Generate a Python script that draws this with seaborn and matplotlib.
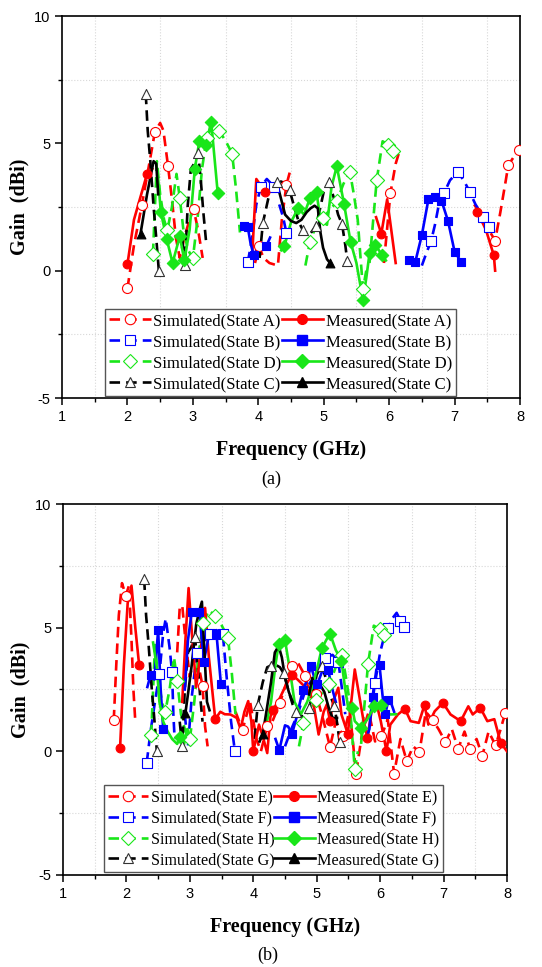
import numpy as np
import matplotlib
matplotlib.use("Agg")
import matplotlib.pyplot as plt
from matplotlib.lines import Line2D
from matplotlib.ticker import MultipleLocator
import seaborn as sns

nan = np.nan

# ---------------- Panel (a) data ----------------
simA_x = [2.0, 2.1, 2.22, 2.32, 2.42, 2.5, 2.55, 2.62, 2.68, 2.74, 2.8, 2.88, 2.95, 3.01, 3.08, 3.15, nan,
          3.95, 4.01, 4.08, 4.17, 4.3, 4.36, 4.43, 4.48, nan,
          5.92, 6.02, 6.1, 6.17, nan,
          7.3, 7.4, 7.5, 7.62, 7.7, 7.78, 7.82, 7.9, 7.98]
simA_y = [-0.7, 1.0, 2.57, 4.0, 5.45, 5.8, 5.5, 4.12, 2.8, 1.3, 0.5, 1.4, 2.0, 2.43, 1.6, 0.5, nan,
          0.3, 0.97, 0.5, 0.3, 0.2, 2.0, 3.37, 3.85, nan,
          0.3, 3.05, 4.2, 4.8, nan,
          2.6, 2.2, 1.7, 1.18, 2.3, 3.5, 4.13, 4.45, 4.73]
simA_mk = [2.0, 2.22, 2.42, 2.62, 3.01, 4.01, 4.43, 6.02, 7.62, 7.82, 7.98]

measA_x = [2.0, 2.1, 2.3, 2.38, nan, 3.9, 3.97, 4.1, nan, 5.8, 5.88, 5.97, 6.1, nan, 7.35, 7.48, 7.6, 7.62]
measA_y = [0.25, 2.0, 3.8, 4.0, nan, 0.3, 3.6, 3.1, nan, 2.1, 1.45, 2.8, 0.3, nan, 2.3, 1.6, 0.6, 0.0]
measA_mk = [2.0, 2.3, 4.1, 5.88, 7.35, 7.6]

simB_x = [3.84, 3.9, 3.97, 4.04, 4.13, 4.24, nan, 4.32, 4.38, 4.43, nan,
          6.5, 6.57, 6.64, 6.7, 6.76, 6.84, 6.93, 7.05, 7.15, 7.23, 7.32, 7.44, 7.53]
simB_y = [0.33, 1.2, 2.6, 3.3, 3.6, 3.3, nan, 2.6, 2.1, 1.47, nan,
          0.2, 0.7, 1.15, 1.8, 2.6, 3.05, 3.55, 3.88, 3.5, 3.1, 2.6, 2.12, 1.7]
simB_mk = [3.84, 4.04, 4.24, 4.43, 6.64, 6.84, 7.05, 7.23, 7.44, 7.53]

measB_x = [3.78, 3.84, 3.88, 3.93, 3.98, 4.05, 4.12, 4.18, nan,
           6.3, 6.4, 6.5, 6.6, 6.7, 6.8, 6.9, 7.0, 7.1]
measB_y = [1.75, 1.7, 1.1, 0.6, 0.85, 1.1, 0.95, 1.3, nan,
           0.4, 0.35, 1.4, 2.8, 2.9, 2.75, 1.95, 0.75, 0.35]
measB_mk = [3.78, 3.84, 3.93, 4.12, 6.3, 6.4, 6.5, 6.6, 6.7, 6.8, 6.9, 7.0, 7.1]

simD_x = [2.39, 2.45, 2.5, 2.56, 2.61, 2.68, 2.75, 2.8, 2.86, 2.93, 3.0, 3.07, 3.14, 3.21, 3.3, 3.4, 3.5, 3.6,
          3.66, 3.72, nan,
          4.72, 4.79, 4.86, 4.93, 4.99, 5.1, 5.2, 5.3, 5.4, 5.46, 5.52, 5.56, 5.6, 5.65, nan,
          5.7, 5.75, 5.81, 5.9, 5.99, 6.06]
simD_y = [0.65, 4.3, 3.0, 2.0, 1.58, 2.5, 3.8, 2.86, 1.5, 0.8, 0.48, 2.0, 4.0, 5.2, 5.7, 5.49, 5.1, 4.6,
          3.2, 1.5, nan,
          0.2, 1.14, 1.6, 1.9, 2.08, 2.4, 2.72, 3.4, 3.89, 3.0, 2.0, 0.6, -0.72, 0.0, nan,
          0.3, 1.8, 3.55, 5.08, 4.94, 4.69]
simD_mk = [2.39, 2.61, 2.8, 3.0, 3.21, 3.4, 3.6, 4.79, 4.99, 5.2, 5.4, 5.6, 5.81, 5.99, 6.06]

measD_x = [2.47, 2.51, 2.6, 2.69, 2.8, 2.87, 2.95, 3.03, 3.1, 3.2, 3.28, 3.38, nan,
           4.35, 4.4, 4.5, 4.61, 4.7, 4.79, 4.89, 4.95, 5.05, 5.12, 5.2, 5.31, 5.41, 5.5, 5.6, 5.65,
           5.7, 5.79, 5.89, 5.95]
measD_y = [3.6, 2.3, 1.25, 0.3, 1.35, 0.4, 1.6, 4.0, 5.1, 4.95, 5.85, 3.05, nan,
           0.8, 0.97, 1.9, 2.46, 2.2, 2.85, 3.07, 2.0, 1.8, 3.3, 4.1, 2.63, 1.14, 0.3, -1.15, -0.3,
           0.68, 1.01, 0.62, 0.4]
measD_mk = [2.51, 2.6, 2.69, 2.8, 2.87, 3.03, 3.1, 3.2, 3.28, 3.38, 4.4, 4.61, 4.79, 4.89, 5.2,
            5.31, 5.41, 5.6, 5.7, 5.79, 5.89]

simC_x = [2.28, 2.31, 2.35, 2.4, 2.44, 2.48, nan,
          2.84, 2.88, 2.92, 2.97, 3.02, 3.08, 3.12, 3.16, 3.2, nan,
          4.02, 4.07, 4.15, 4.22, 4.28, 4.35, 4.42, 4.48, 4.55, 4.62, 4.68, 4.78, 4.88, 4.95, 5.0,
          5.08, 5.15, 5.22, 5.28, 5.33, 5.36]
simC_y = [6.95, 5.5, 4.3, 2.5, 1.3, 0.0, nan,
          1.2, 0.22, 2.5, 4.0, 4.2, 4.62, 3.6, 2.3, 1.2, nan,
          0.5, 1.87, 2.8, 3.4, 3.47, 3.5, 3.4, 3.15, 2.5, 1.9, 1.6, 1.4, 1.75, 2.5, 3.1,
          3.47, 2.9, 2.2, 1.83, 1.0, 0.39]
simC_mk = [2.28, 2.48, 2.88, 3.08, 4.07, 4.28, 4.48, 4.68, 4.88, 5.08, 5.28, 5.36]

measC_x = [2.2, 2.3, 2.4, 2.44, 2.47, nan,
           4.22, 4.3, 4.35, 4.41, 4.5, 4.58, 4.66, 4.74, 4.8, 4.86, 4.91, 4.95, 4.99, 5.05, 5.1]
measC_y = [1.45, 3.0, 4.3, 4.2, 3.0, nan,
           3.4, 3.3, 2.8, 2.2, 1.95, 1.87, 2.0, 2.3, 2.45, 2.55, 2.45, 1.5, 0.9, 0.45, 0.29]
measC_mk = [2.2, 5.1]

# ---------------- Panel (b) data ----------------
simE_x = [1.8, 1.84, 1.88, 1.93, 1.99, 2.04, 2.08, 2.11, 2.14, nan,
          2.8, 2.84, 2.88, 2.93, 3.0, 3.08, 3.15, 3.2, 3.24, 3.28, nan,
          3.72, 3.83, 3.95, 4.05, 4.12, 4.22, 4.3, 4.42, 4.5, 4.61, 4.7, 4.82, 4.9, 4.99, 5.08, 5.15,
          5.21, 5.3, 5.42, 5.52, 5.62, 5.72, 5.82, 5.92, 6.02, 6.12, 6.22, 6.32, 6.42, 6.52, 6.62,
          6.72, 6.83, 6.92, 7.03, 7.13, 7.23, 7.33, 7.42, 7.52, 7.61, 7.71, 7.82, 7.9, 7.97, 8.0]
simE_y = [1.25, 3.5, 5.5, 6.8, 6.3, 6.7, 4.5, 2.5, 1.2, nan,
          4.0, 5.8, 5.9, 4.5, 3.0, 4.0, 3.3, 2.65, 1.0, 0.2, nan,
          1.6, 0.86, 2.0, 0.5, 0.0, 1.02, 1.2, 1.96, 2.6, 3.45, 3.6, 3.04, 2.2, 2.31, 1.5, 0.8,
          0.18, 1.2, 0.6, 1.7, -0.9, 0.8, 1.6, 0.4, 0.6, 1.3, -0.9, 0.5, -0.4, 0.2, -0.03,
          1.6, 1.26, 0.9, 0.38, 0.9, 0.1, 0.8, 0.1, 0.5, -0.19, 0.8, 0.24, 0.9, 1.53, 1.4]
simE_mk = [1.8, 1.99, 3.2, 3.83, 4.22, 4.42, 4.61, 4.82, 4.99, 5.21, 5.42, 5.62, 6.02, 6.22,
           6.42, 6.62, 6.83, 7.03, 7.23, 7.42, 7.61, 7.82, 7.97]

measE_x = [1.9, 1.96, 2.02, 2.08, 2.14, 2.2, nan,
           2.88, 2.93, 2.98, 3.04, 3.1, 3.17, 3.24, 3.3, 3.4, 3.48, 3.55, 3.64, 3.74, 3.8, 3.86,
           3.92, 3.97, 4.0, 4.09, 4.15, 4.22, 4.27, 4.31, 4.42, 4.5, 4.61, 4.7, 4.83, 4.91, 4.96,
           5.03, 5.11, 5.16, 5.21, 5.26, 5.34, 5.39, 5.49, 5.6, 5.73, 5.8, 5.88, 5.96, 6.01, 6.1,
           6.16, 6.28, 6.39, 6.48, 6.61, 6.7, 6.76, 6.86, 6.99, 7.11, 7.27, 7.39, 7.46, 7.58, 7.69,
           7.8, 7.9, 8.0]
measE_y = [0.15, 3.5, 6.0, 6.7, 5.0, 3.5, nan,
           2.0, 4.5, 6.6, 4.5, 2.6, 4.0, 5.8, 3.8, 1.3, 1.6, 1.5, 1.49, 1.35, 0.9, 1.6,
           2.03, 1.2, 0.0, 1.08, 0.6, -0.07, 1.4, 1.66, 2.16, 2.6, 3.1, 2.9, 2.57, 2.3, 1.76,
           0.68, 1.6, 1.9, 1.22, 2.03, 2.57, 1.49, 0.71, 3.31, 1.35, 0.54, 1.89, 1.75, 1.22, 0.0,
           1.08, 1.49, 1.72, 1.22, 1.15, 1.88, 1.08, 1.62, 1.96, 1.49, 1.22, 1.82, 1.49, 1.76, 1.22,
           1.3, 0.35, 0.0]
measE_mk = [1.9, 2.2, 3.4, 4.0, 4.31, 4.61, 5.21, 5.49, 5.8, 6.1, 6.39, 6.7, 6.99, 7.27, 7.58, 7.9]

simF_x = [2.32, 2.38, 2.45, 2.52, 2.58, 2.62, 2.68, 2.72, 2.74, 2.76, nan,
          2.92, 2.97, 3.03, 3.11, 3.2, 3.32, 3.42, 3.52, 3.58, 3.65, 3.71, nan,
          4.5, 4.6, 4.7, 4.8, 4.9, 5.0, 5.05, 5.13, 5.25, 5.34, 5.4, 5.45, nan,
          5.85, 5.92, 6.0, 6.06, 6.12, 6.2, 6.26, 6.32, 6.38]
simF_y = [-0.46, 0.8, 2.0, 3.12, 4.8, 5.37, 4.2, 3.19, 1.5, 0.5, nan,
          1.5, 0.2, 2.2, 3.98, 4.4, 4.74, 4.9, 4.74, 3.0, 1.2, 0.0, nan,
          0.2, 0.9, 1.5, 2.3, 2.8, 3.0, 3.5, 3.77, 3.9, 3.63, 2.5, 1.5, nan,
          1.5, 2.77, 4.0, 4.6, 4.97, 5.4, 5.6, 5.28, 5.03]
simF_mk = [2.32, 2.52, 2.72, 3.11, 3.32, 3.52, 3.71, 5.13, 5.34, 5.92, 6.12, 6.32, 6.38]

measF_x = [2.33, 2.38, 2.44, 2.5, 2.54, 2.58, 2.62, nan,
           2.92, 2.97, 3.03, 3.1, 3.15, 3.22, 3.3, 3.42, 3.49, 3.55, nan,
           4.35, 4.41, 4.5, 4.55, 4.61, 4.68, 4.78, 4.85, 4.91, 4.96, 5.01, 5.08, 5.18, 5.25, 5.3, nan,
           5.78, 5.83, 5.88, 5.94, 5.99, 6.04, 6.08, 6.13, 6.18, 6.22]
measF_y = [2.6, 3.08, 2.9, 4.9, 2.5, 0.9, 0.8, nan,
           2.5, 4.5, 5.64, 5.5, 5.64, 3.62, 4.7, 4.74, 2.71, 2.6, nan,
           0.5, 0.05, 1.05, 1.0, 0.7, 1.35, 2.47, 2.9, 3.44, 3.0, 2.71, 3.2, 3.28, 2.48, 2.0, nan,
           0.5, 0.9, 2.2, 3.3, 3.48, 2.2, 1.5, 2.06, 1.9, 1.6]
measF_mk = [2.38, 2.5, 2.58, 3.03, 3.15, 3.22, 3.42, 3.49, 4.41, 4.61, 4.78, 4.91, 5.01, 5.18,
            5.88, 5.99, 6.08, 6.13]

simH_x, simH_y, simH_mk = simD_x, simD_y, simD_mk
simG_x, simG_y, simG_mk = simC_x, simC_y, simC_mk

measH_x = [2.42, 2.48, 2.52, 2.58, 2.65, 2.72, 2.8, 2.85, 2.9, 2.96, 3.02, nan,
           4.2, 4.28, 4.35, 4.4, 4.5, 4.58, 4.65, 4.75, 4.85, 4.95, 5.02, 5.08, 5.15, 5.21, 5.3,
           5.39, 5.45, 5.5, 5.56, 5.6, 5.7, 5.8, 5.91, 6.01, 6.1, 6.16, 6.25]
measH_y = [4.4, 3.4, 2.0, 1.2, 0.8, 0.5, 0.3, 0.58, 0.2, 0.9, 0.5, nan,
           1.0, 2.0, 3.5, 4.35, 4.5, 3.24, 2.0, 1.5, 2.0, 2.8, 3.5, 4.16, 4.5, 4.76, 4.1,
           3.65, 2.5, 1.7, 1.76, 1.22, 0.95, 1.3, 1.82, 1.89, 1.6, 1.49, 1.5]
measH_mk = [2.85, 4.4, 4.5, 5.08, 5.21, 5.39, 5.56, 5.7, 5.91, 6.01]

measG_x = [2.93, 2.98, 3.03, 3.1, 3.15, 3.19, 3.23, 3.27, 3.31, nan,
           4.1, 4.15, 4.2, 4.28, 4.34, 4.4, 4.45, 4.5, 4.56, 4.62, nan,
           4.88, 4.93, 4.98, 5.05, 5.12, 5.19, 5.25, 5.32]
measG_y = [1.55, 2.5, 3.5, 5.13, 5.7, 6.05, 4.0, 2.0, 1.66, nan,
           0.4, 0.7, 1.5, 2.8, 4.0, 4.26, 3.8, 3.0, 2.4, 2.0, nan,
           2.3, 2.97, 2.5, 2.7, 2.4, 1.76, 1.35, 1.35]
measG_mk = [2.93, 4.15]

RED, BLUE, GREEN, BLACK = "#FF0000", "#0000FF", "#19E619", "#000000"
DASH = (0, (4.0, 2.3))
LW = 1.9

plt.rcParams["font.family"] = ["Liberation Sans", "DejaVu Sans"]
plt.rcParams["axes.unicode_minus"] = False


def segments(xs, ys):
    segs, cx, cy = [], [], []
    for x, y in zip(xs, ys):
        if np.isnan(x):
            if cx:
                segs.append((cx, cy))
            cx, cy = [], []
        else:
            cx.append(x)
            cy.append(y)
    if cx:
        segs.append((cx, cy))
    return segs


def draw(ax, xs, ys, mk, color, marker, sim):
    for sx, sy in segments(xs, ys):
        sns.lineplot(x=sx, y=sy, ax=ax, sort=False, estimator=None, color=color, lw=LW,
                     linestyle=DASH if sim else "-", zorder=2 if sim else 3)
    xa, ya = np.array(xs, float), np.array(ys, float)
    my = [ya[np.nanargmin(np.abs(xa - m))] for m in mk]
    if sim:
        edge = "#333333" if color == BLACK else color
        sns.scatterplot(x=mk, y=my, ax=ax, marker=marker, s=52, color="white", edgecolor=edge,
                        linewidth=0.8, zorder=4, legend=False)
    else:
        sns.scatterplot(x=mk, y=my, ax=ax, marker=marker, s=40, color=color, edgecolor=color,
                        linewidth=0.8, zorder=5, legend=False)


def handle(color, marker, sim):
    if sim:
        edge = "#333333" if color == BLACK else color
        return Line2D([], [], color=color, lw=LW, linestyle=DASH, marker=marker, markersize=7.5,
                      markerfacecolor="white", markeredgecolor=edge, markeredgewidth=0.8)
    return Line2D([], [], color=color, lw=LW, linestyle="-", marker=marker, markersize=7,
                  markerfacecolor=color, markeredgecolor=color)


def style_axes(ax):
    ax.set_xlim(1, 8)
    ax.set_ylim(-5, 10)
    ax.xaxis.set_major_locator(MultipleLocator(1))
    ax.xaxis.set_minor_locator(MultipleLocator(0.5))
    ax.yaxis.set_major_locator(MultipleLocator(5))
    ax.yaxis.set_minor_locator(MultipleLocator(2.5))
    ax.grid(False)
    for gx in np.arange(1.5, 8.0, 1.0):
        ax.axvline(gx, color="#D8D8D8", lw=0.8, ls=":", zorder=0)
    for gy in [-2.5, 2.5, 7.5]:
        ax.axhline(gy, color="#D8D8D8", lw=0.8, ls=":", zorder=0)
    ax.tick_params(which="major", direction="out", length=5, width=1.1, labelsize=10.5,
                   top=False, right=False)
    ax.tick_params(which="minor", direction="out", length=3, width=1.0, top=False, right=False)
    for sp in ax.spines.values():
        sp.set_linewidth(1.2)
        sp.set_color("black")
    ax.set_xlabel("Frequency (GHz)", fontfamily="Liberation Serif", fontweight="bold",
                  fontsize=14.5, labelpad=12)
    ax.set_ylabel("Gain  (dBi)", fontfamily="Liberation Serif", fontweight="bold",
                  fontsize=14.5, labelpad=3)


fig = plt.figure(figsize=(5.42, 9.67), dpi=100)
axA = fig.add_axes([62 / 542, 1 - 398 / 967, 458 / 542, 382 / 967])
axB = fig.add_axes([63 / 542, 1 - 875 / 967, 444 / 542, 371 / 967])

panelA = [
    ("Simulated(State A)", simA_x, simA_y, simA_mk, RED, "o", True),
    ("Simulated(State B)", simB_x, simB_y, simB_mk, BLUE, "s", True),
    ("Simulated(State D)", simD_x, simD_y, simD_mk, GREEN, "D", True),
    ("Simulated(State C)", simC_x, simC_y, simC_mk, BLACK, "^", True),
    ("Measured(State A)", measA_x, measA_y, measA_mk, RED, "o", False),
    ("Measured(State B)", measB_x, measB_y, measB_mk, BLUE, "s", False),
    ("Measured(State D)", measD_x, measD_y, measD_mk, GREEN, "D", False),
    ("Measured(State C)", measC_x, measC_y, measC_mk, BLACK, "^", False),
]
panelB = [
    ("Simulated(State E)", simE_x, simE_y, simE_mk, RED, "o", True),
    ("Simulated(State F)", simF_x, simF_y, simF_mk, BLUE, "s", True),
    ("Simulated(State H)", simH_x, simH_y, simH_mk, GREEN, "D", True),
    ("Simulated(State G)", simG_x, simG_y, simG_mk, BLACK, "^", True),
    ("Measured(State E)", measE_x, measE_y, measE_mk, RED, "o", False),
    ("Measured(State F)", measF_x, measF_y, measF_mk, BLUE, "s", False),
    ("Measured(State H)", measH_x, measH_y, measH_mk, GREEN, "D", False),
    ("Measured(State G)", measG_x, measG_y, measG_mk, BLACK, "^", False),
]

for ax, panel, anchor, fs in [(axA, panelA, (0.094, 0.005), 12), (axB, panelB, (0.092, 0.008), 11.6)]:
    for lab, xs, ys, mk, col, m, sim in panel:
        draw(ax, xs, ys, mk, col, m, sim)
    style_axes(ax)
    handles = [handle(col, m, sim) for lab, xs, ys, mk, col, m, sim in panel]
    labels = [p[0] for p in panel]
    leg = ax.legend(handles, labels, ncol=2, loc="lower left", bbox_to_anchor=anchor,
                    prop={"family": "Liberation Serif", "size": fs}, frameon=True, fancybox=False,
                    edgecolor="#555555", framealpha=1, handlelength=2.5, handletextpad=0.15,
                    columnspacing=0.0, labelspacing=0.3, borderpad=0.25, borderaxespad=0.0)
    leg.get_frame().set_linewidth(1.0)
    leg.set_zorder(10)

fig.text(271 / 542, 1 - 479 / 967, "(a)", ha="center", va="center",
         fontfamily="Liberation Serif", fontsize=13)
fig.text(268 / 542, 1 - 955 / 967, "(b)", ha="center", va="center",
         fontfamily="Liberation Serif", fontsize=13)

fig.savefig("out.png", dpi=100)
